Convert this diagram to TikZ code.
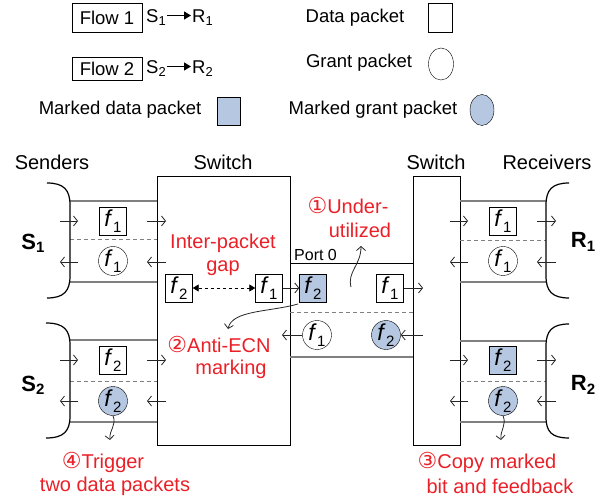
\documentclass[tikz,border=0pt]{standalone}
\usepackage{fontspec}
\setmainfont{Liberation Sans}
\newfontfamily\circfont{DejaVu Sans}
\usetikzlibrary{arrows.meta,shapes.geometric,calc}
\definecolor{markblue}{RGB}{182,199,225}
\definecolor{notered}{RGB}{234,32,40}
\definecolor{linkgray}{RGB}{128,128,128}
% flow label: italic f with a lowered upright index
\newcommand\flab[1]{{\fontsize{23}{24}\selectfont\textit{f}}\kern0.3pt\raisebox{-0.3em}{\fontsize{15}{15}\selectfont #1}}
\newcommand\circnum[1]{{\circfont\fontsize{22}{22}\selectfont #1}}
\begin{document}
\begin{tikzpicture}[x=1pt,y=-1pt,
  lbl/.style={font=\fontsize{20}{22}\selectfont, inner sep=0},
  leg/.style={font=\fontsize{18.5}{20}\selectfont, inner sep=0},
  note/.style={lbl, text=notered},
  host/.style={font=\fontsize{22}{22}\selectfont\bfseries, inner sep=0},
  datapkt/.style={draw, minimum width=27pt, minimum height=28pt, inner sep=0, font=\fontsize{20}{22}\selectfont},
  grantpkt/.style={draw, circle, minimum size=29pt, inner sep=0, font=\fontsize{20}{22}\selectfont},
  marked/.style={fill=markblue},
  link/.style={draw=linkgray, line width=1.4pt},
  midline/.style={draw=linkgray, dash pattern=on 4pt off 3pt, line width=1pt},
  tick/.style={-{Straight Barb[length=4pt,width=10pt]}, line width=0.8pt, black!85},
  wavy/.style={-{Straight Barb[length=4pt,width=9pt]}, line width=0.8pt, black!85},
  brace/.style={line width=1.2pt, black},
  switchbox/.style={draw, line width=1pt}]
\useasboundingbox (0,0) rectangle (607,502);

% ---------- legend ----------
\node[leg, draw, minimum width=70pt, minimum height=29pt] (flow1) at (107,17.5) {Flow 1};
\node[leg, anchor=west] (s1a) at (146,17.5) {S\textsubscript{1}};
\node[leg, anchor=west] (r1a) at (192,17.5) {R\textsubscript{1}};
\draw[-{Triangle[length=7pt,width=8pt]}, line width=1.3pt] ($(s1a.east)+(1,-2)$) -- ($(r1a.west)+(-1,-2)$);
\node[leg, draw, minimum width=70pt, minimum height=23pt] (flow2) at (107,68.5) {Flow 2};
\node[leg, anchor=west] (s2a) at (146,68.5) {S\textsubscript{2}};
\node[leg, anchor=west] (r2a) at (192,68.5) {R\textsubscript{2}};
\draw[-{Triangle[length=7pt,width=8pt]}, line width=1.3pt] ($(s2a.east)+(1,-2)$) -- ($(r2a.west)+(-1,-2)$);

\node[leg] (dataleg) at (355,17.5) {Data packet};
\node[draw, minimum width=24pt, minimum height=29pt, inner sep=0] (datasym) at (440,17.5) {};
\node[leg] (grantleg) at (359,63) {Grant packet};
\node[draw, ellipse, minimum width=25pt, minimum height=32pt, inner sep=0] (grantsym) at (441,64) {};
\node[leg] (mdataleg) at (120,110) {Marked data packet};
\node[draw, marked, minimum width=23pt, minimum height=28pt, inner sep=0] (mdatasym) at (228.5,111) {};
\node[leg] (mgrantleg) at (373,110) {Marked grant packet};
\node[draw, marked, ellipse, minimum width=24pt, minimum height=31pt, inner sep=0] (mgrantsym) at (482,110) {};

% ---------- column titles ----------
\node[lbl] (senders) at (52,162) {Senders};
\node[lbl] (swtitle1) at (223,162) {Switch};
\node[lbl] (swtitle2) at (436,162) {Switch};
\node[lbl] (receivers) at (547,162) {Receivers};

% ---------- switches ----------
\draw[switchbox] (157,177) rectangle (290,445);
\draw[switchbox] (413,177) rectangle (460,445);

% ---------- sender links ----------
\draw[link] (70,201) -- (157,201);
\draw[link] (70,282) -- (157,282);
\draw[midline] (70,240) -- (157,240);
\draw[link] (70,340) -- (157,340);
\draw[link] (70,422) -- (157,422);
\draw[midline] (70,381) -- (157,381);

% ---------- receiver links ----------
\draw[link] (460,201) -- (546,201);
\draw[link] (460,282) -- (546,282);
\draw[midline] (460,241) -- (546,241);
\draw[link] (460,341) -- (546,341);
\draw[link] (460,422) -- (546,422);
\draw[midline] (460,381) -- (546,381);

% ---------- switch-to-switch link (port 0) ----------
\draw[line width=1pt] (290,264) -- (413,264);
\draw[midline] (290,312) -- (413,312);
\draw[link] (290,357) -- (413,357);
\node[font=\fontsize{16}{18}\selectfont, inner sep=0, anchor=west] (port0) at (294,255) {Port 0};

% ---------- host braces ----------
\draw[brace] (47,183) .. controls (64,183) and (70,190) .. (70,205) -- (70,276) .. controls (70,291) and (64,298) .. (47,298);
\draw[brace] (46,323) .. controls (64,323) and (70,330) .. (70,345) -- (70,416) .. controls (70,431) and (64,438) .. (46,438);
\draw[brace] (569,183) .. controls (552,183) and (546,190) .. (546,205) -- (546,276) .. controls (546,291) and (552,298) .. (569,298);
\draw[brace] (569,324) .. controls (552,324) and (546,331) .. (546,346) -- (546,417) .. controls (546,432) and (552,438) .. (569,438);

\node[host] (S1) at (33,243) {S\raisebox{-0.15em}{\fontsize{15}{15}\selectfont 1}};
\node[host] (S2) at (33,385) {S\raisebox{-0.15em}{\fontsize{15}{15}\selectfont 2}};
\node[host] (R1) at (583,242) {R\raisebox{-0.15em}{\fontsize{15}{15}\selectfont 1}};
\node[host] (R2) at (583,385) {R\raisebox{-0.15em}{\fontsize{15}{15}\selectfont 2}};

% ---------- packets on sender links ----------
\node[datapkt] (s1data) at (113,221) {\flab{1}};
\node[grantpkt] (s1grant) at (113,261) {\flab{1}};
\node[datapkt] (s2data) at (113,360) {\flab{2}};
\node[grantpkt, marked] (s2grant) at (113,401) {\flab{2}};

% ---------- packets on receiver links ----------
\node[datapkt] (r1data) at (503,221) {\flab{1}};
\node[grantpkt] (r1grant) at (503,261) {\flab{1}};
\node[datapkt, marked] (r2data) at (503,360) {\flab{2}};
\node[grantpkt, marked] (r2grant) at (503,401) {\flab{2}};

% ---------- packets inside / leaving the first switch ----------
\node[datapkt] (qf2) at (179,288) {\flab{2}};
\node[datapkt] (qf1) at (269,288) {\flab{1}};
\node[datapkt, marked] (pf2) at (313,288) {\flab{2}};
\node[datapkt] (pf1) at (390,288) {\flab{1}};
\node[grantpkt] (pg1) at (317,335) {\flab{1}};
\node[grantpkt, marked] (pg2) at (386,335) {\flab{2}};

\draw[{Triangle[length=6pt,width=7pt]}-{Triangle[length=6pt,width=7pt]}, dashed, line width=0.8pt] (qf2.east) -- (qf1.west);
\draw[tick] (qf1.east) -- (pf2.west);
\coordinate (pf1out) at (423,288);
\draw[tick] (pf1.east) -- (pf1out);
\coordinate (pg2in) at (423,335);
\draw[tick] (pg2in) -- (pg2.east);
\coordinate (pg1out) at (282,335);
\draw[tick] (pg1.west) -- (pg1out);

% ---------- direction ticks on host links ----------
\foreach \y in {221,360} {
  \draw[tick] (60,\y) -- (78,\y);
  \draw[tick] (147,\y) -- (166,\y);
  \draw[tick] (450,\y) -- (468,\y);
  \draw[tick] (537,\y) -- (556,\y);
}
\foreach \y in {262,401} {
  \draw[tick] (78,\y) -- (60,\y);
  \draw[tick] (166,\y) -- (147,\y);
  \draw[tick] (468,\y) -- (450,\y);
  \draw[tick] (556,\y) -- (537,\y);
}

% ---------- annotations ----------
\node[note] (gap1) at (223,243) {Inter-packet};
\node[note] (gap2) at (223,268) {gap};
\node[note] (under1) at (348,205) {\circnum{①}Under-};
\node[note] (under2) at (360,230) {utilized};
\node[note] (anti1) at (219,344) {\circnum{②}Anti-ECN};
\node[note] (anti2) at (231,369) {marking};
\node[note] (trig1) at (103,462) {\circnum{④}Trigger};
\node[note] (trig2) at (115,486) {two data packets};
\node[note] (copy1) at (487,462) {\circnum{③}Copy marked};
\node[note] (copy2) at (500,486) {bit and feedback};

\coordinate (idle) at (351,287);
\draw[wavy] (idle) .. controls (347,272) and (361,265) .. (361,246);
\coordinate (ecnstart) at (298,304);
\draw[wavy] (ecnstart) .. controls (270,312) and (232,310) .. (228,329);
\coordinate (trigend) at (110,440);
\draw[wavy] (s2grant.south) .. controls (117,425) and (109,430) .. (trigend);
\coordinate (copyend) at (501,440);
\draw[wavy] (r2grant.south) .. controls (507,425) and (500,430) .. (copyend);
\end{tikzpicture}
\end{document}
